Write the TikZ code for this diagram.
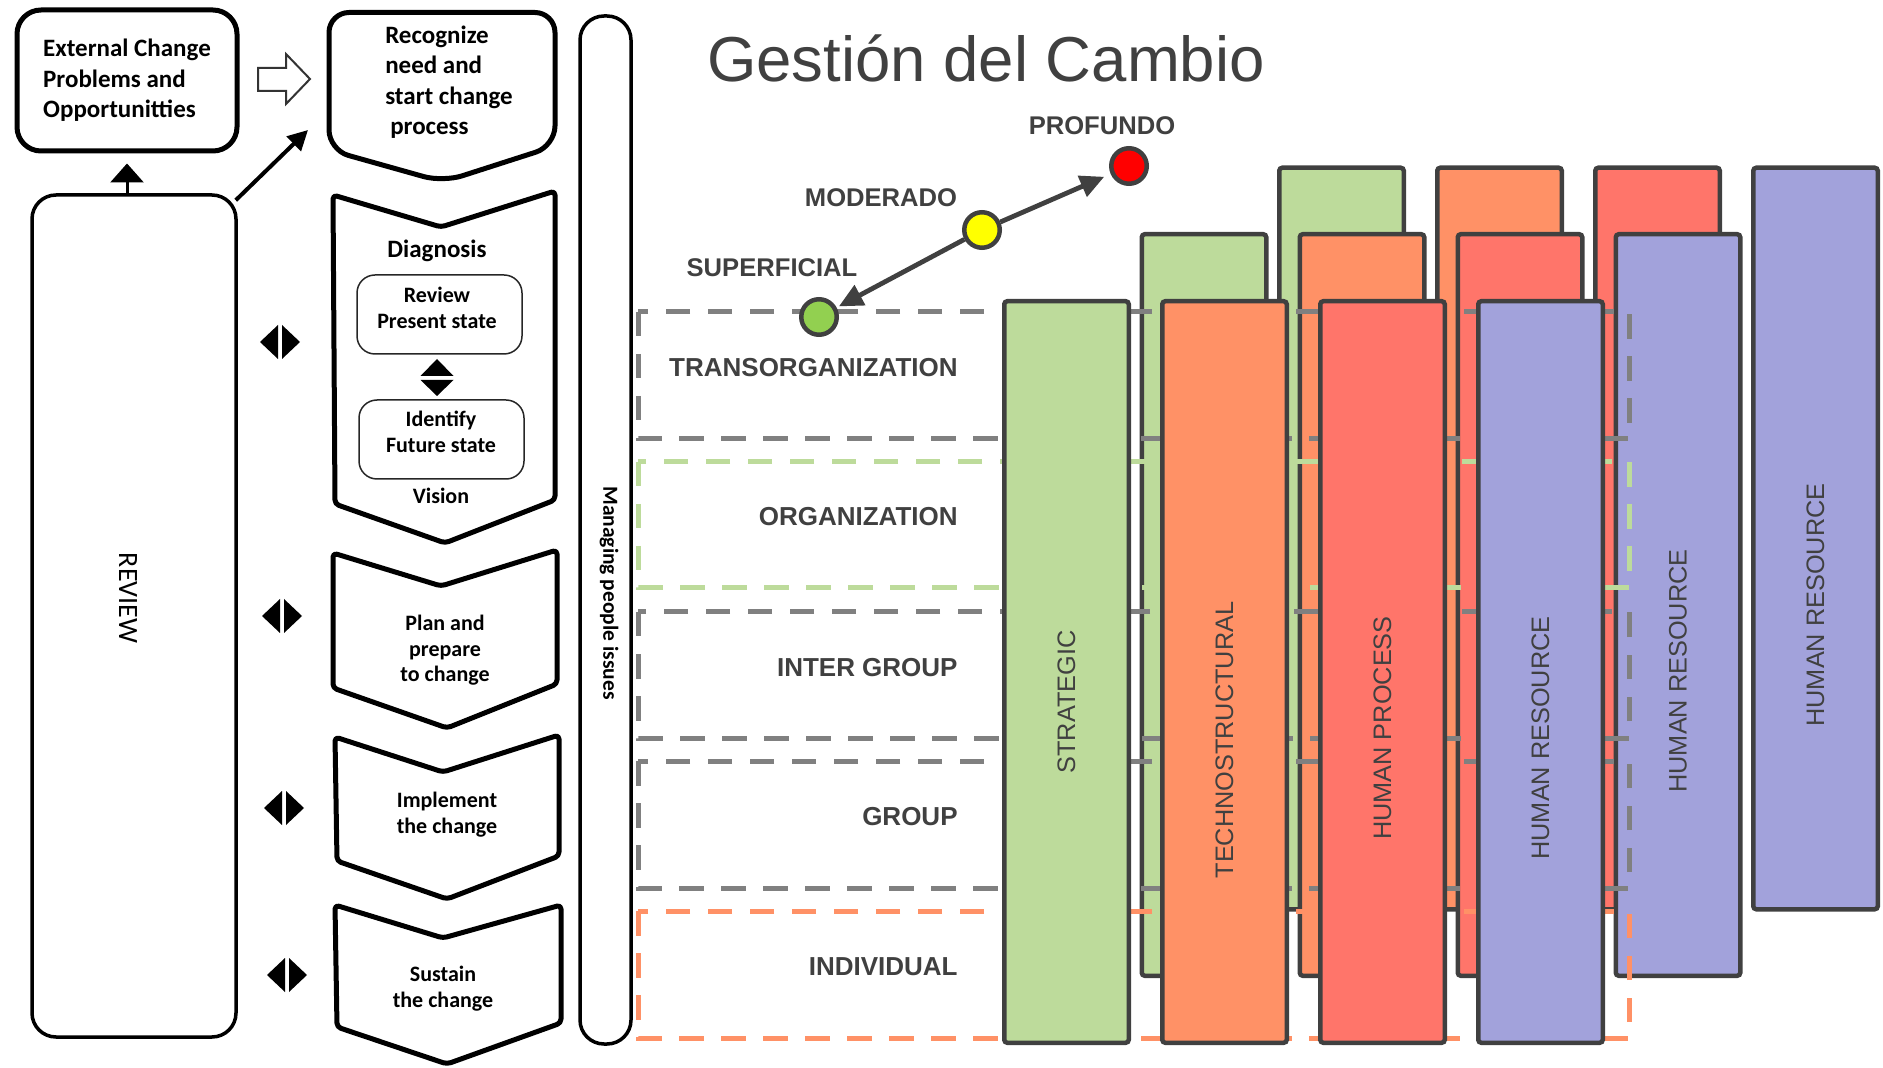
\documentclass[tikz,border=0pt]{standalone}
\usepackage{fontspec}
\setmainfont{Liberation Sans}
\newfontfamily\calfont{Carlito}
\usetikzlibrary{arrows.meta}
\definecolor{dg}{HTML}{404040}
\definecolor{dgray}{HTML}{808080}
\definecolor{cgreen}{HTML}{BDDB9B}
\definecolor{corange}{HTML}{FF9166}
\definecolor{cred}{HTML}{FF756A}
\definecolor{cpurple}{HTML}{A2A2DB}
\definecolor{dashgreen}{HTML}{BDDB9B}
\definecolor{dashorange}{HTML}{FF9166}
\definecolor{circgreen}{HTML}{92D050}
\definecolor{circyellow}{HTML}{FFFF00}
\definecolor{circred}{HTML}{FF0000}
\newcommand\lrtri[2]{%
  \fill[black] (#1-20,#2) -- (#1-2,#2-17) -- (#1-2,#2+17) -- cycle;
  \fill[black] (#1+2,#2-17) -- (#1+20,#2) -- (#1+2,#2+17) -- cycle;}
\tikzset{
  chev/.style={draw=black, line width=2.5pt, line join=round, rounded corners=2pt},
  ltext/.style={font=\calfont\bfseries\fontsize{12.5}{15.25}\selectfont, align=left, inner sep=0pt},
  stext/.style={font=\calfont\bfseries\fontsize{11}{13}\selectfont, align=center, inner sep=0pt},
  subbox/.style={draw=black!85, line width=0.75pt, rounded corners=9pt, minimum width=82.5pt, minimum height=39.5pt, inner sep=0pt},
  colbar/.style={draw=dg, line width=2.25pt, rounded corners=1.5pt, minimum width=62.25pt, minimum height=370.75pt, inner sep=0pt},
  barlabel/.style={rotate=90, text=dg, font=\fontsize{12.65}{14}\selectfont, inner sep=0pt},
  lvl/.style={line width=2.5pt, dash pattern=on 12.25pt off 8.75pt},
  lvllabel/.style={text=dg, font=\bfseries\fontsize{13}{15}\selectfont, inner sep=0pt, anchor=base east},
  deptext/.style={text=dg, font=\bfseries\fontsize{12.8}{15}\selectfont, inner sep=0pt, anchor=base},
  lvdot/.style={circle, draw=dg, line width=2.25pt, minimum size=17.75pt, inner sep=0pt},
  deparrow/.style={draw=dg, line width=2.4pt, -{Triangle[length=12pt,width=11pt]}},
}
\begin{document}
\begin{tikzpicture}[x=0.5pt,y=-0.5pt]
\useasboundingbox (0,0) rectangle (1883,1068);

% ---------------- left process diagram ----------------
\node[draw=black, line width=2.5pt, rounded corners=12pt, minimum width=110pt, minimum height=70.5pt, ltext] (ext) at (127,80.5)
  {External Change\\Problems and\\Opportunitties};

\node[draw=black, line width=1.75pt, rounded corners=12pt, minimum width=102pt, minimum height=421pt] (review) at (134,616) {};
\node[rotate=-90, font=\calfont\fontsize{14}{16}\selectfont, inner sep=0pt] (reviewtxt) at (128,598) {REVIEW};

\draw[line width=1.5pt, -{Triangle[length=9.5pt,width=16.5pt]}] (review.north -| ext.south) -- ([yshift=-5pt]ext.south);

\coordinate (diagtip) at (308,130);
\draw[line width=2pt, -{Triangle[length=10pt,width=10pt]}] ([shift={(-1pt,-3.5pt)}]review.north east) -- (diagtip);

% hollow arrow
\draw[line width=1pt, draw=black!80, fill=white] (258,68) -- (286,68) -- (286,54) -- (310,79) -- (286,104) -- (286,91) -- (258,91) -- cycle;

% recognize pentagon
\draw[line width=2.5pt, rounded corners=10pt, line join=round] (443,182) -- (329,150) -- (329,12.5) -- (555,12.5) -- (555,146) -- cycle;
\node[ltext] (recog) at (449,82) {Recognize\\need and\\start change\\\hspace*{2.5pt}process};

% diagnosis chevron
\draw[chev] (333,195) -- (441,227) -- (555,191) -- (555,500) -- (445,543) -- (335,504) -- cycle;
\node[ltext] (diag) at (437,251) {Diagnosis};
\node[subbox] (revbox) at (439.5,314.5) {};
\node[stext] (revtxt) at (437,307.5) {Review\\Present state};
\fill[black] (437,359) -- (453.5,376) -- (420.5,376) -- cycle;
\fill[black] (420.5,380) -- (453.5,380) -- (437,396) -- cycle;
\node[subbox] (idbox) at (441.5,439.5) {};
\node[stext] (idtxt) at (441,432) {Identify\\Future state};
\node[stext] (vision) at (441,496) {Vision};

% plan chevron
\draw[chev] (333,553) -- (441,586) -- (557,550) -- (557,684) -- (447,728) -- (333,688) -- cycle;
\node[stext, font=\calfont\bfseries\fontsize{11}{12.75}\selectfont] (plan) at (445,650.5) {Plan and\\prepare\\to change};

% implement chevron
\draw[chev] (335,737) -- (443,772) -- (559,735) -- (559,856) -- (447,899) -- (337,861) -- cycle;
\node[stext] (impl) at (447,814.5) {Implement\\the change};

% sustain chevron
\draw[chev] (335,905) -- (443,938) -- (561,905) -- (561,1023) -- (447,1064) -- (337,1027) -- cycle;
\node[stext] (sust) at (443,989) {Sustain\\the change};

% left-right markers
\lrtri{280}{342}
\lrtri{282}{616}
\lrtri{284}{808}
\lrtri{287}{975}

% managing people issues bar
\node[draw=black, line width=1.75pt, rounded corners=12pt, minimum width=25.5pt, minimum height=514pt] (mpi) at (605.5,530) {};
\node[rotate=-90, font=\calfont\bfseries\fontsize{10.75}{12}\selectfont, inner sep=0pt] (mpitxt) at (609,593) {Managing people issues};

% ---------------- right: Gestion del Cambio ----------------
\node[text=dg, font=\fontsize{31.75}{36}\selectfont, anchor=base, inner sep=0pt] (title) at (986,82) {Gestión del Cambio};

% back row
\node[colbar, fill=cgreen]  (bk1) at (1341.5,538.5) {};
\node[colbar, fill=corange] (bk2) at (1499.5,538.5) {};
\node[colbar, fill=cred]    (bk3) at (1657.5,538.5) {};
\node[colbar, fill=cpurple] (bk4) at (1815.5,538.5) {};
\node[barlabel] (lbk4) at (1815.5,605) {HUMAN RESOURCE};

% middle row
\node[colbar, fill=cgreen]  (md1) at (1204,605) {};
\node[colbar, fill=corange] (md2) at (1362,605) {};
\node[colbar, fill=cred]    (md3) at (1520,605) {};
\node[colbar, fill=cpurple] (md4) at (1678,605) {};
\node[barlabel] (lmd4) at (1678,671) {HUMAN RESOURCE};

% level frames
\draw[lvl, draw=dgray]      (638,312) rectangle (1629,439);
\draw[lvl, draw=dashgreen]  (638,462) rectangle (1629,588);
\draw[lvl, draw=dgray]      (638,612) rectangle (1629,738);
\draw[lvl, draw=dgray]      (638,761) rectangle (1629,888);
\draw[lvl, draw=dashorange] (638,911) rectangle (1629,1038);

% front row
\node[colbar, fill=cgreen]  (fr1) at (1066.5,672) {};
\node[colbar, fill=corange] (fr2) at (1224.5,672) {};
\node[colbar, fill=cred]    (fr3) at (1382.5,672) {};
\node[colbar, fill=cpurple] (fr4) at (1540.5,672) {};
\node[barlabel] (lfr1) at (1066.5,702) {STRATEGIC};
\node[barlabel] (lfr2) at (1224.5,740) {TECHNOSTRUCTURAL};
\node[barlabel] (lfr3) at (1382.5,728) {HUMAN PROCESS};
\node[barlabel] (lfr4) at (1540.5,738) {HUMAN RESOURCE};

% level labels
\node[lvllabel] (ltrans) at (958,377) {TRANSORGANIZATION};
\node[lvllabel] (lorg)   at (958,526) {ORGANIZATION};
\node[lvllabel] (linter) at (958,676) {INTER GROUP};
\node[lvllabel] (lgroup) at (958,825) {GROUP};
\node[lvllabel] (lind)   at (958,975) {INDIVIDUAL};

% depth scale
\node[deptext] (tprof) at (1102,135) {PROFUNDO};
\node[deptext] (tmod)  at (881,207) {MODERADO};
\node[deptext] (tsup)  at (772,277) {SUPERFICIAL};
\node[lvdot, fill=circred]    (dred) at (1129,166) {};
\node[lvdot, fill=circyellow] (dyel) at (982,230) {};
\node[lvdot, fill=circgreen]  (dgrn) at (819,317) {};
\draw[deparrow, shorten >=3.5pt] (dyel) -- (dred);
\draw[deparrow, shorten >=1.25pt] (dyel) -- (dgrn);
\end{tikzpicture}
\end{document}
